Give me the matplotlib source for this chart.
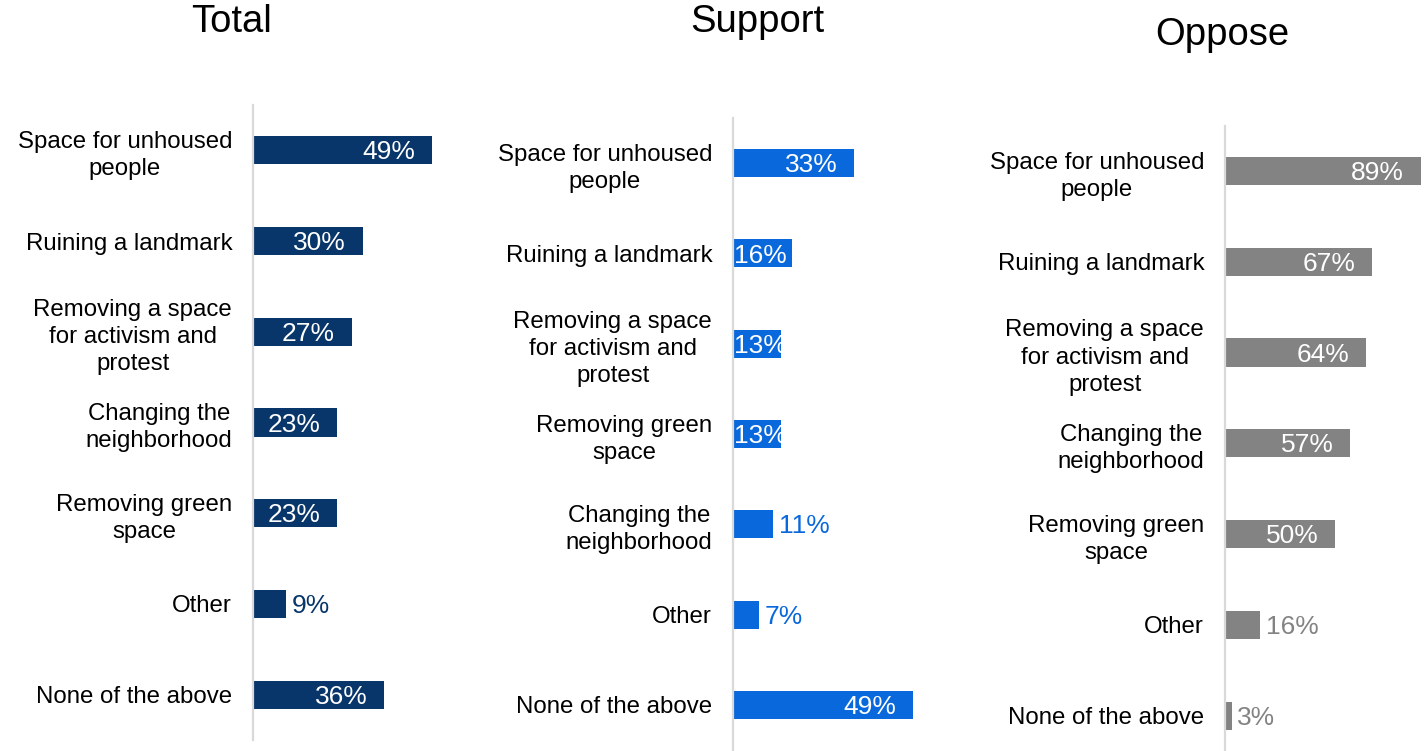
import matplotlib.pyplot as plt

plt.rcParams['font.family'] = ['Liberation Sans', 'DejaVu Sans']

total_cats = ['Space for unhoused\npeople', 'Ruining a landmark', 'Removing a space\nfor activism and\nprotest',
              'Changing the\nneighborhood', 'Removing green\nspace', 'Other', 'None of the above']
total_vals = [49, 30, 27, 23, 23, 9, 36]

support_cats = ['Space for unhoused\npeople', 'Ruining a landmark', 'Removing a space\nfor activism and\nprotest',
                'Removing green\nspace', 'Changing the\nneighborhood', 'Other', 'None of the above']
support_vals = [33, 16, 13, 13, 11, 7, 49]

oppose_cats = ['Space for unhoused\npeople', 'Ruining a landmark', 'Removing a space\nfor activism and\nprotest',
               'Changing the\nneighborhood', 'Removing green\nspace', 'Other', 'None of the above']
oppose_vals = [89, 67, 64, 57, 50, 16, 3]

W, H = 1426, 751
fig = plt.figure(figsize=(W / 100, H / 100), dpi=100)

# panel: title, cats, vals, colour, axis x px, top px, bottom px, px per %, ylim, title pos
panels = [
    ('Total', total_cats, total_vals, '#08366b', 253, 105, 740, 3.65, (6.5, -0.5), (232, 22)),
    ('Support', support_cats, support_vals, '#0968db', 733, 118, 750, 3.68, (6.5, -0.5), (757, 22)),
    ('Oppose', oppose_cats, oppose_vals, '#838383', 1225, 126, 751, 2.2, (6.39, -0.496), (1222, 35)),
]

for title, cats, vals, color, x0, top, bottom, scale, ylim, tpos in panels:
    width_px = W - x0 if title == 'Oppose' else 200
    ax = fig.add_axes([x0 / W, 1 - bottom / H, width_px / W, (bottom - top) / H])
    ypos = list(range(len(cats)))
    ax.barh(ypos, vals, height=0.31, color=color)
    ax.set_xlim(0, width_px / scale)
    ax.set_ylim(*ylim)
    ax.set_yticks(ypos)
    ax.set_yticklabels(cats, fontsize=17.3, multialignment='center', linespacing=1.3)
    ax.tick_params(axis='y', length=0, pad=15)
    ax.set_xticks([])
    for s in ['top', 'right', 'bottom']:
        ax.spines[s].set_visible(False)
    ax.spines['left'].set_color('#d9d9d9')
    ax.spines['left'].set_linewidth(1.6)

    # value labels: inside end if the bar is wide enough, otherwise outside in bar colour
    for y, v in zip(ypos, vals):
        w = v * scale
        label = f'{v}%'
        if w >= 75:
            ax.annotate(label, (v, y), xytext=(-12, -1.5), textcoords='offset points',
                        ha='right', va='center', color='white', fontsize=19)
        elif w >= 45:
            ax.annotate(label, (0, y), xytext=(1, -1.5), textcoords='offset points',
                        ha='left', va='center', color='white', fontsize=19)
        else:
            ax.annotate(label, (v, y), xytext=(4, -1.5), textcoords='offset points',
                        ha='left', va='center', color=color, fontsize=19)

    fig.text(tpos[0] / W, 1 - tpos[1] / H, title, ha='center', va='center', fontsize=27.5)

fig.savefig('out.png', dpi=100)
